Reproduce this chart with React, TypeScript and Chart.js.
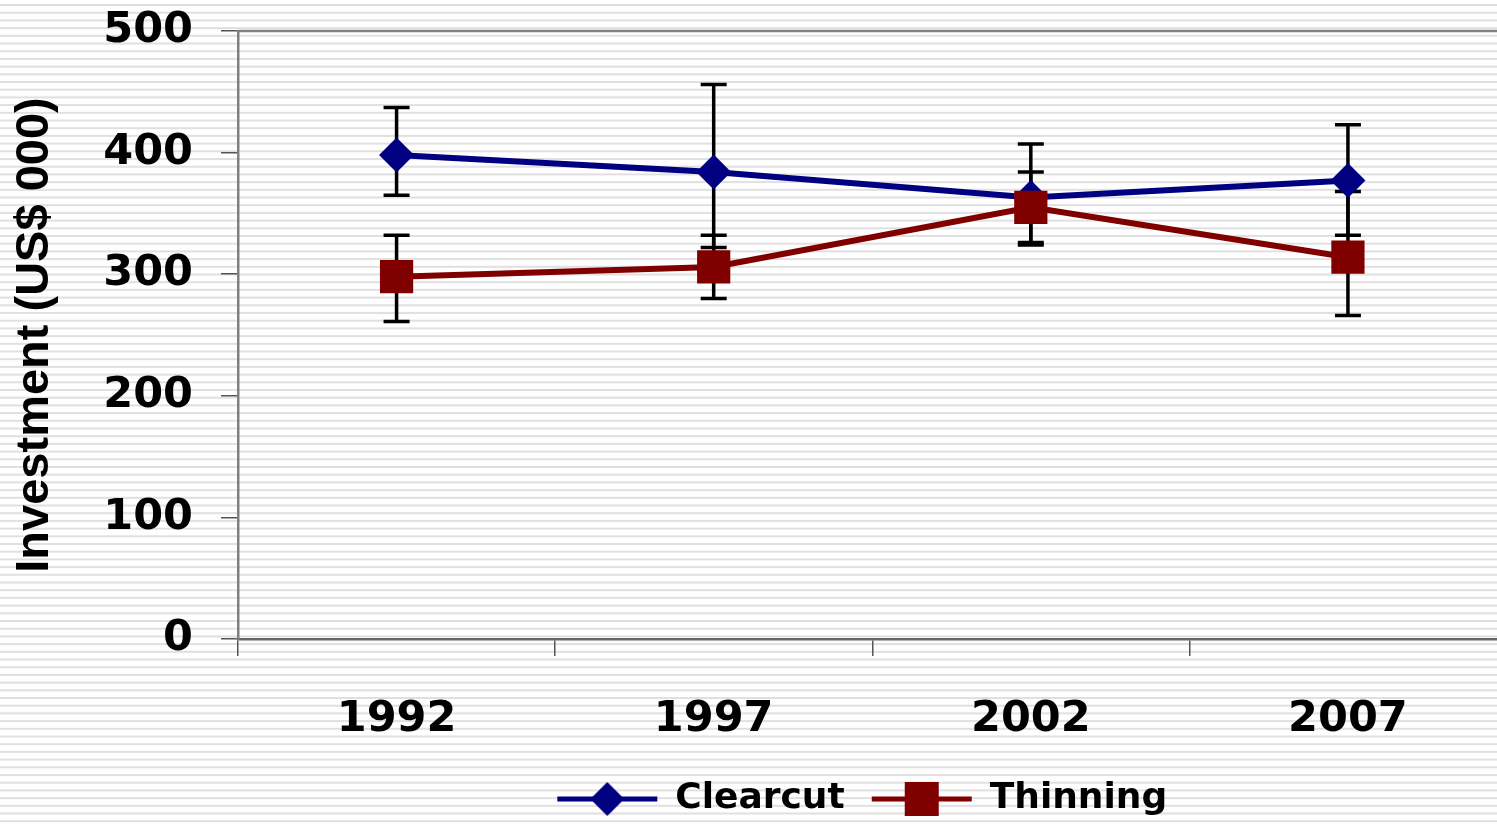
import React, { useEffect, useRef } from 'react';
import { Chart, registerables } from 'chart.js';

Chart.register(...registerables);

const years = ['1992', '1997', '2002', '2007'];
const clearcut = [398, 384, 363, 377];
const clearcutHigh = [437, 456, 407, 423];
const clearcutLow = [365, 322, 324, 332];
const thinning = [298, 306, 355, 314];
const thinningHigh = [332, 332, 384, 368];
const thinningLow = [261, 280, 326, 266];
const yMin = 0;
const yMax = 500;
const yStep = 100;

const BLUE = '#000080';
const RED = '#800000';

function makeLegendImage(color: string, shape: 'diamond' | 'square'): HTMLCanvasElement {
  const c = document.createElement('canvas');
  c.width = 104;
  c.height = 40;
  const ctx = c.getContext('2d')!;
  ctx.strokeStyle = color;
  ctx.lineWidth = 5;
  ctx.beginPath();
  ctx.moveTo(2, 20);
  ctx.lineTo(102, 20);
  ctx.stroke();
  ctx.fillStyle = color;
  if (shape === 'diamond') {
    ctx.beginPath();
    ctx.moveTo(52 - 17, 20);
    ctx.lineTo(52, 20 - 17);
    ctx.lineTo(52 + 17, 20);
    ctx.lineTo(52, 20 + 17);
    ctx.closePath();
    ctx.fill();
  } else {
    ctx.fillRect(52 - 17, 20 - 17, 34, 34);
  }
  return c;
}

const stripesPlugin = {
  id: 'stripes',
  beforeDraw(chart: any) {
    const { ctx, width, height } = chart;
    ctx.save();
    ctx.fillStyle = '#ffffff';
    ctx.fillRect(0, 0, width, height);
    ctx.fillStyle = '#e0e0e0';
    for (let y = 4; y < height; y += 7.7) {
      ctx.fillRect(0, y, width, 2);
    }
    ctx.restore();
  },
};

const frameAndLegendPlugin = {
  id: 'frameLegend',
  afterLayout(chart: any) {
    const lg = chart.legend;
    if (lg) {
      lg.left = chart.chartArea.left;
      lg.right = chart.chartArea.right - 20;
      lg.width = lg.right - lg.left;
    }
  },
  beforeDatasetsDraw(chart: any) {
    const { ctx, chartArea } = chart;
    ctx.save();
    ctx.strokeStyle = '#808080';
    ctx.lineWidth = 2.5;
    ctx.beginPath();
    ctx.moveTo(chartArea.left, chartArea.top);
    ctx.lineTo(chartArea.right, chartArea.top);
    ctx.lineTo(chartArea.right, chartArea.bottom);
    ctx.stroke();
    // error bars
    const yScale = chart.scales.y;
    const sets = [
      { idx: 0, hi: clearcutHigh, lo: clearcutLow },
      { idx: 1, hi: thinningHigh, lo: thinningLow },
    ];
    ctx.strokeStyle = '#000000';
    ctx.lineWidth = 3.5;
    ctx.lineCap = 'butt';
    sets.forEach((s) => {
      const meta = chart.getDatasetMeta(s.idx);
      meta.data.forEach((pt: any, i: number) => {
        const x = pt.x;
        const yh = yScale.getPixelForValue(s.hi[i]);
        const yl = yScale.getPixelForValue(s.lo[i]);
        ctx.beginPath();
        ctx.moveTo(x, yh);
        ctx.lineTo(x, yl);
        ctx.moveTo(x - 13, yh);
        ctx.lineTo(x + 13, yh);
        ctx.moveTo(x - 13, yl);
        ctx.lineTo(x + 13, yl);
        ctx.stroke();
      });
    });
    ctx.restore();
  },
};

export default function App() {
  const ref = useRef<HTMLCanvasElement | null>(null);

  useEffect(() => {
    if (!ref.current) return;
    const imgClear = makeLegendImage(BLUE, 'diamond');
    const imgThin = makeLegendImage(RED, 'square');
    const tickFont = { family: 'DejaVu Sans', weight: 'bold' as const, size: 43 };
    const chart = new Chart(ref.current, {
      type: 'line',
      data: {
        labels: years,
        datasets: [
          {
            label: 'Clearcut',
            data: clearcut,
            borderColor: BLUE,
            backgroundColor: BLUE,
            borderWidth: 6,
            pointStyle: 'rectRot',
            pointRadius: 17.5,
            pointBorderWidth: 0,
            pointBackgroundColor: BLUE,
            tension: 0,
            order: 1,
          },
          {
            label: 'Thinning',
            data: thinning,
            borderColor: RED,
            backgroundColor: RED,
            borderWidth: 6,
            pointStyle: 'rect',
            pointRadius: 23.5,
            pointBorderWidth: 0,
            pointBackgroundColor: RED,
            tension: 0,
            order: 0,
          },
        ],
      },
      options: {
        animation: false,
        responsive: false,
        devicePixelRatio: 1,
        layout: { padding: { left: 0, top: 31, right: 15, bottom: 3 } },
        plugins: {
          tooltip: { enabled: false },
          legend: {
            position: 'bottom',
            labels: {
              usePointStyle: true,
              pointStyleWidth: 100,
              padding: 27,
              color: '#000',
              font: { family: 'DejaVu Sans', weight: 'bold', size: 36 },
              generateLabels: () => [
                { text: 'Clearcut', pointStyle: imgClear as any, fillStyle: BLUE, strokeStyle: BLUE, lineWidth: 0, hidden: false, datasetIndex: 0 },
                { text: 'Thinning', pointStyle: imgThin as any, fillStyle: RED, strokeStyle: RED, lineWidth: 0, hidden: false, datasetIndex: 1 },
              ],
            },
          },
        },
        scales: {
          x: {
            type: 'category',
            offset: true,
            afterFit: (s: any) => {
              s.height = 115;
              s.paddingLeft = 0;
              s.paddingRight = 0;
            },
            grid: { offset: true, drawOnChartArea: false, drawTicks: true, tickLength: 17, color: '#555', lineWidth: 1.5 },
            border: { display: true, color: '#666', width: 2.5 },
            ticks: { color: '#000', font: { ...tickFont, lineHeight: 2.98 }, padding: 0, maxRotation: 0 },
          },
          y: {
            min: yMin,
            max: yMax,
            afterFit: (s: any) => {
              s.width = 238;
              s.paddingTop = 0;
              s.paddingBottom = 0;
            },
            grid: { drawOnChartArea: false, drawTicks: true, tickLength: 17, color: '#555', lineWidth: 1.5 },
            border: { display: true, color: '#808080', width: 2.5 },
            ticks: { stepSize: yStep, color: '#000', font: tickFont, padding: 28 },
            title: {
              display: true,
              text: 'Investment (US$ 000)',
              color: '#000',
              font: { family: 'Liberation Sans', weight: 'bold', size: 47, lineHeight: 1 },
              padding: { top: 12, bottom: 0 },
            },
          },
        },
      },
      plugins: [stripesPlugin, frameAndLegendPlugin],
    });
    return () => chart.destroy();
  }, []);

  return (
    <div style={{ position: 'fixed', left: 0, top: 0, width: 1497, height: 825, overflow: 'hidden', background: '#fff' }}>
      <canvas ref={ref} width={1530} height={830} style={{ display: 'block', width: 1530, height: 830 }} />
    </div>
  );
}
